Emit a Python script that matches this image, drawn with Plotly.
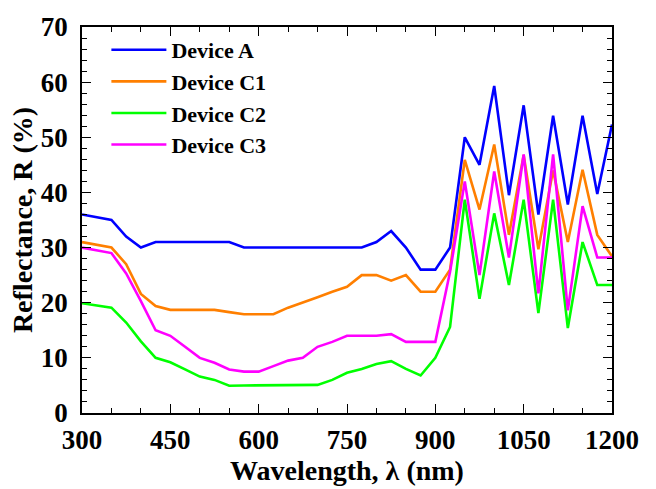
import plotly.graph_objects as go

wavelength = [300, 350, 375, 400, 425, 450, 475, 500, 525, 550, 575, 600, 625, 650, 675, 700,
              725, 750, 775, 800, 825, 850, 875, 900, 925, 950, 975, 1000, 1025, 1050, 1075,
              1100, 1125, 1150, 1175, 1200]

device_a = [36, 35, 32, 30, 31, 31, 31, 31, 31, 31, 30, 30, 30, 30, 30, 30, 30, 30, 30, 31, 33,
            30, 26, 26, 30, 50, 45, 59.3, 39.5, 55.8, 36, 53.9, 37.8, 53.9, 39.7, 52.3]
device_c1 = [31, 30, 27, 21.6, 19.4, 18.7, 18.7, 18.7, 18.7, 18.3, 17.9, 17.9, 17.9, 19.1, 20,
             21, 22, 22.9, 25, 25, 24, 25, 22, 22, 26, 45.9, 36.9, 48.7, 32.3, 46.8, 29.7, 44,
             31, 44.1, 32.3, 28.4]
device_c2 = [19.9, 19.1, 16.4, 13, 10, 9.2, 7.9, 6.6, 6, 4.95, 5, 5, 5, 5, 5, 5.1, 6, 7.3, 8,
             8.9, 9.4, 8, 6.8, 10, 15.6, 38.7, 20.7, 36.2, 23.2, 38.7, 18.1, 38.7, 15.4, 31,
             23.2, 23.2]
device_c3 = [30, 29, 25.3, 20.3, 15, 14, 12, 10, 9.1, 7.9, 7.5, 7.5, 8.5, 9.5, 10, 12, 12.9, 14,
             14, 14, 14.3, 12.9, 12.9, 12.9, 25.6, 42, 25, 43.8, 28.2, 46.9, 21.7, 46.9, 18.6,
             37.5, 28.2, 28.2]

series_names = ["Device A", "Device C1", "Device C2", "Device C3"]
series_values = [device_a, device_c1, device_c2, device_c3]
series_colors = ["#0000FF", "#FF7F00", "#00FF00", "#FF00FF"]

x_ticks = [300, 450, 600, 750, 900, 1050, 1200]
y_ticks = [0, 10, 20, 30, 40, 50, 60, 70]

FONT = "Liberation Serif"

fig = go.Figure()
for name, vals, col in zip(series_names, series_values, series_colors):
    fig.add_trace(go.Scatter(x=wavelength, y=vals, mode="lines", name=name,
                             line=dict(color=col, width=2.6)))

axis_common = dict(
    showline=True, linecolor="black", linewidth=1.6, mirror="allticks",
    ticks="inside", ticklen=9, tickwidth=1.4, tickcolor="black",
    showgrid=False, zeroline=False,
    tickfont=dict(family=FONT, size=27, color="black", weight="bold"),
)

fig.update_xaxes(
    range=[300, 1200], tickvals=x_ticks, ticktext=[str(v) for v in x_ticks],
    minor=dict(dtick=50, tick0=300, ticks="inside", ticklen=5, tickwidth=1.2, tickcolor="black"),
    ticklabelstandoff=2,
    title=dict(text="Wavelength, λ (nm)", font=dict(family=FONT, size=28, color="black", weight="bold"),
               standoff=2),
    **axis_common,
)
fig.update_yaxes(
    range=[0, 70], tickvals=y_ticks, ticktext=[str(v) for v in y_ticks],
    minor=dict(dtick=2, tick0=0, ticks="inside", ticklen=5, tickwidth=1.2, tickcolor="black"),
    ticklabelstandoff=7,
    title=dict(text="Reflectance, R (%)", font=dict(family=FONT, size=28, color="black", weight="bold"),
               standoff=0),
    **axis_common,
)

fig.update_layout(
    width=656, height=489,
    margin=dict(l=82, r=44, t=17, b=76),
    paper_bgcolor="white", plot_bgcolor="white",
    showlegend=True,
    legend=dict(x=0.046, y=0.995, xanchor="left", yanchor="top",
                bgcolor="rgba(0,0,0,0)", borderwidth=0, itemwidth=55,
                tracegroupgap=0,
                font=dict(family=FONT, size=22, color="black", weight="bold")),
)

fig.write_html("out.html")
